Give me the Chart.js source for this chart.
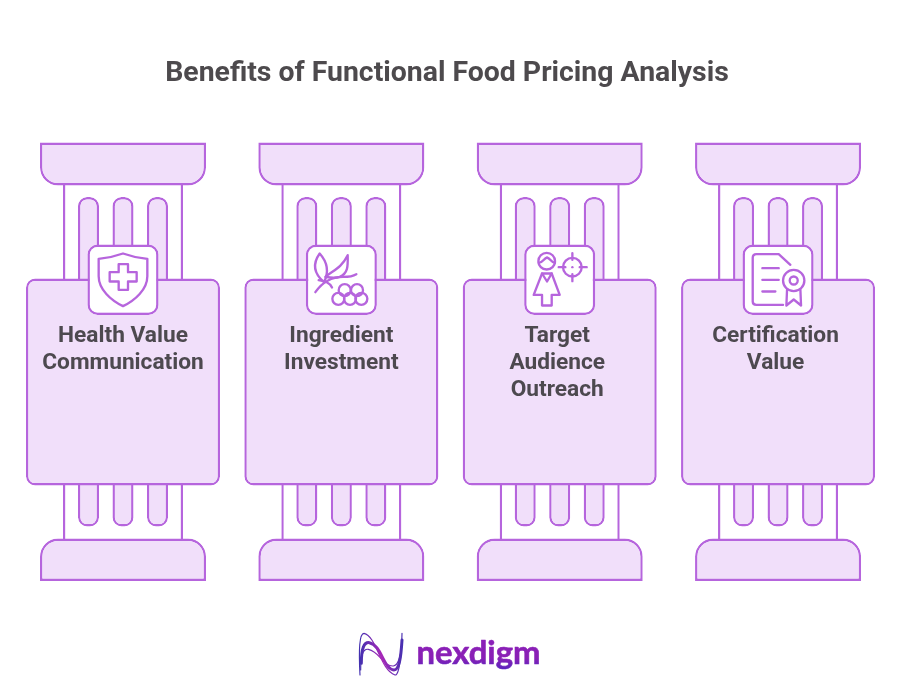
<!DOCTYPE html>
<html>
<head>
<meta charset="utf-8">
<title>Benefits of Functional Food Pricing Analysis</title>
<style>
html,body{margin:0;padding:0;background:#fff}
canvas{display:block}
</style>
<script src="https://cdn.jsdelivr.net/npm/chart.js@4"></script>
</head>
<body>
<canvas id="c" width="901" height="696"></canvas>
<script>
const chartTitle = "Benefits of Functional Food Pricing Analysis";
const categories = ["Health Value Communication", "Ingredient Investment", "Target Audience Outreach", "Certification Value"];
const labelLines = [["Health Value", "Communication"], ["Ingredient", "Investment"], ["Target", "Audience", "Outreach"], ["Certification", "Value"]];
const pillarIndex = [0, 1, 2, 3];
const brandName = "nexdigm";

const STROKE = "#b665dd", FILL = "#f1dffa", TEXT = "#4d494f";
const unit = 218.35;                       // one column in pixels
const px = p => p / unit;                  // pixel width expressed in column units
const r = (tl, tr, br, bl) => ({topLeft: tl, topRight: tr, bottomRight: br, bottomLeft: bl});
const side = {left: 2.4, right: 2.4, top: 0, bottom: 0};
const line = 2.4;
const labelNudge = [0, 0, -2.5, -2.5];

function tier(name, offset, span, width, fill, radius, border, order) {
  return {
    label: name, order,
    data: pillarIndex.map(i => ({x: i + offset, y: span})),
    barThickness: width, grouped: false,
    backgroundColor: fill, borderColor: STROKE,
    borderWidth: border, borderRadius: radius, borderSkipped: false, inflateAmount: 0
  };
}
const flute = px(34.5);
const datasets = [
  tier("upper shaft", 0, [184, 280], 120, "#ffffff", 0, side, 10),
  tier("lower shaft", 0, [484, 540], 120, "#ffffff", 0, side, 10),
  tier("upper flute L", -flute, [197, 290], 21, FILL, r(9, 9, 0, 0), line, 9),
  tier("upper flute C", 0, [197, 290], 21, FILL, r(9, 9, 0, 0), line, 9),
  tier("upper flute R", flute, [197, 290], 21, FILL, r(9, 9, 0, 0), line, 9),
  tier("lower flute L", -flute, [475, 526.5], 21, FILL, r(0, 0, 9, 9), line, 9),
  tier("lower flute C", 0, [475, 526.5], 21, FILL, r(0, 0, 9, 9), line, 9),
  tier("lower flute R", flute, [475, 526.5], 21, FILL, r(0, 0, 9, 9), line, 9),
  tier("capital", 0, [142.5, 185.5], 166, FILL, r(0, 0, 18, 18), line, 8),
  tier("base", 0, [538.5, 581], 166, FILL, r(18, 18, 0, 0), line, 8),
  tier("panel", 0, [278.5, 485.5], 194, FILL, 9, line, 7),
  tier("icon box", 0, [244.5, 315], 71, "#ffffff", 10, line, 6)
];

// icon outlines, drawn around the middle of each icon box (units are thirds of a pixel)
const iconPaths = [
  ["M0 -78 C-22 -70 -50 -64 -73 -62 L-73 -10 C-73 30 -36 62 0 80 C36 62 73 30 73 -10 L73 -62 C50 -64 22 -70 0 -78 Z",
   "M-13 -46 L15 -46 L15 -22 L41 -22 L41 6 L15 6 L15 31 L-13 31 L-13 6 L-40 6 L-40 -22 L-13 -22 Z"],
  ["M-65 -78 C-85 -50 -85 -20 -52 8 C-38 -20 -40 -50 -65 -78 Z",
   "M-48 -8 C-20 -30 0 -35 19 -73 C20 -40 20 -18 -5 -8 C-20 -3 -35 -6 -48 -8 Z",
   "M-78 38 C-55 5 -30 -8 5 -8 C20 -8 35 -10 45 -16",
   "M-68 2 C-50 5 -35 8 -28 24"],
  ["M-64 -55 a25 25 0 1 0 50 0 a25 25 0 1 0 -50 0",
   "M-63 -50 C-50 -50 -48 -64 -38 -66 C-28 -64 -26 -50 -14 -50",
   "M-53 -18 L-24 -18 L-38 6 Z",
   "M-53 -18 L-78 46 L-53 46 L-53 78 L-24 78 L-24 46 L0 46 L-24 -18",
   "M10 -37 a28 28 0 1 0 56 0 a28 28 0 1 0 -56 0",
   "M-3 -37 L17 -37 M60 -37 L81 -37 M38 -79 L38 -59 M38 -16 L38 5",
   "M38 -37 L38.1 -37"],
  ["M37 -44 L2 -76 L-65 -76 C-72 -76 -76 -72 -76 -65 L-76 66 C-76 72 -72 76 -65 76 L15 76",
   "M-47 -34 L2 -34 M-47 1 L2 1 M-47 36 L-8 36",
   "M15 3 a32 32 0 1 0 64 0 a32 32 0 1 0 -64 0",
   "M35 3 a12 12 0 1 0 24 0 a12 12 0 1 0 -24 0",
   "M27 30 L25 78 L47 60 L69 78 L67 30"]
];
const berries = [[10, 32], [47, 32], [-9, 58], [26, 58], [60, 58]];

const overlay = {
  id: "overlay",
  afterDatasetsDraw(chart) {
    const {ctx, scales: {x, y}} = chart;
    pillarIndex.forEach(i => {
      const cx = x.getPixelForValue(i), cy = y.getPixelForValue(279.5);
      ctx.save();
      ctx.translate(cx, cy);
      ctx.scale(1 / 3, 1 / 3);
      ctx.strokeStyle = STROKE; ctx.lineWidth = 7; ctx.lineJoin = "round"; ctx.lineCap = "round";
      iconPaths[i].forEach(d => ctx.stroke(new Path2D(d)));
      if (i === 1) berries.forEach(([bx, by]) => { ctx.beginPath(); ctx.arc(bx, by, 18, 0, Math.PI * 2); ctx.stroke(); });
      ctx.restore();

      ctx.fillStyle = TEXT;
      ctx.font = "700 22.7px Roboto, sans-serif";
      ctx.textAlign = "center"; ctx.textBaseline = "middle";
      labelLines[i].forEach((t, k) => ctx.fillText(t, cx + labelNudge[i], y.getPixelForValue(336 + k * 27.4)));
    });

    // brand mark
    const ly = y.getPixelForValue(0);
    ctx.save();
    ctx.translate(340, ly + 620);
    ctx.scale(1 / 3, 1 / 3);
    const wave = ctx.createLinearGradient(60, 0, 190, 0);
    wave.addColorStop(0, "#4330b0"); wave.addColorStop(0.5, "#a828b8"); wave.addColorStop(1, "#4330b0");
    ctx.strokeStyle = wave; ctx.lineCap = "round";
    ctx.lineWidth = 3.5;
    ctx.stroke(new Path2D("M60 165 C56 90 58 40 72 40 C110 48 120 150 165 165 C178 168 185 100 186 40"));
    ctx.stroke(new Path2D("M62 150 C62 110 68 85 85 88 C120 95 130 140 160 138 C175 136 182 110 186 70"));
    ctx.lineWidth = 9;
    ctx.stroke(new Path2D("M64 130 C64 85 72 66 88 68 C125 75 130 148 162 150 C178 150 183 110 186 60"));
    ctx.restore();

    const tg = ctx.createLinearGradient(0, ly + 640, 0, ly + 672);
    tg.addColorStop(0, "#8a1fb8"); tg.addColorStop(0.55, "#8a20b5"); tg.addColorStop(1, "#4f25c0");
    ctx.fillStyle = tg; ctx.strokeStyle = tg; ctx.lineWidth = 0.6; ctx.lineJoin = "round";
    ctx.font = "700 32.8px Lato, sans-serif";
    ctx.textAlign = "left"; ctx.textBaseline = "alphabetic";
    ctx.fillText(brandName, 416.5, ly + 663.5);
    ctx.strokeText(brandName, 416.5, ly + 663.5);
  }
};

new Chart(document.getElementById("c"), {
  type: "bar",
  data: {labels: pillarIndex, datasets},
  plugins: [overlay],
  options: {
    responsive: false, animation: false, devicePixelRatio: 1,
    layout: {padding: {left: 0, right: 7, top: 0, bottom: 0}},
    plugins: {
      legend: {display: false}, tooltip: {enabled: false},
      title: {
        display: true, text: chartTitle, fullSize: false, color: "#4d4a4d",
        font: {family: "Roboto", size: 28.4, weight: "700", lineHeight: "30px"},
        padding: {top: 59, bottom: 41}
      }
    },
    scales: {
      x: {type: "linear", display: false, offset: false, min: -123 / unit, max: (894 - 123) / unit},
      y: {type: "linear", display: false, reverse: true, min: 130, max: 696}
    }
  }
});
</script>
</body>
</html>
